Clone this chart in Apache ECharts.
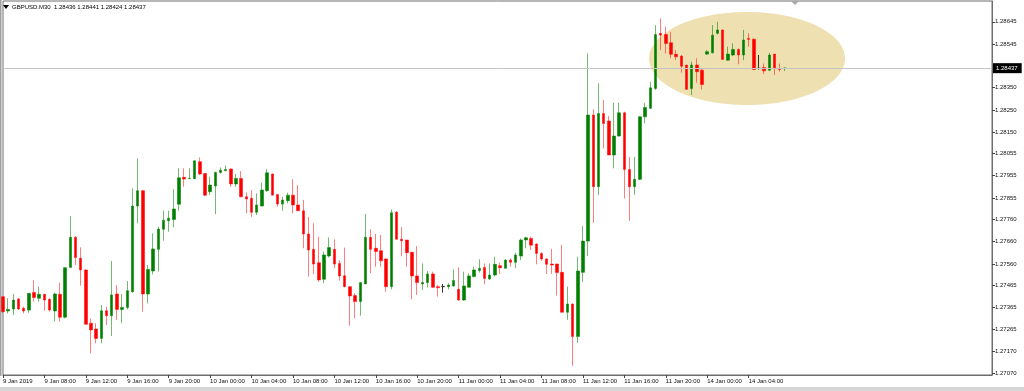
<!DOCTYPE html>
<html>
<head>
<meta charset="utf-8">
<script src="https://cdn.jsdelivr.net/npm/echarts@6/dist/echarts.min.js"></script>
<style>
html,body{margin:0;padding:0;background:#fff;}
#c{width:1024px;height:391px;}
</style>
</head>
<body>
<div id="c"></div>
<script>
// GBPUSD M30, bars from 9 Jan 2019 04:00 to 14 Jan 2019 07:30
const opens = [
1.27413,1.27349,1.27358,1.27403,1.27361,1.27353,1.27432,1.27406,1.27424,1.27401,
1.27349,1.27424,1.27321,1.27544,1.27679,1.27585,1.27533,1.27294,1.27268,1.27226,
1.27350,1.27328,1.27425,1.27356,1.27365,1.27435,1.27819,1.27888,1.27425,1.27528,
1.27625,1.27715,1.27753,1.27759,1.27827,1.27948,1.27942,1.27942,1.28018,1.27965,
1.27883,1.27909,1.27970,1.27977,1.27985,1.27918,1.27943,1.27861,1.27854,1.27791,
1.27819,1.27888,1.27963,1.27871,1.27828,1.27843,1.27868,1.27824,1.27798,1.27694,
1.27625,1.27565,1.27491,1.27595,1.27625,1.27562,1.27507,1.27458,1.27418,1.27391,
1.27470,1.27679,1.27630,1.27619,1.27582,1.27458,1.27791,1.27670,1.27667,1.27612,
1.27506,1.27470,1.27476,1.27515,1.27458,1.27458,1.27458,1.27461,1.27446,1.27398,
1.27455,1.27503,1.27530,1.27544,1.27492,1.27510,1.27552,1.27540,1.27577,1.27567,
1.27595,1.27667,1.27674,1.27649,1.27607,1.27582,1.27559,1.27559,1.27522,1.27343,
1.27380,1.27234,1.27522,1.27662,1.28227,1.27906,1.28234,1.28200,1.28048,1.28133,
1.28237,1.27983,1.27906,1.27939,1.28219,1.28257,1.28346,1.28593,1.28588,1.28551,
1.28499,1.28491,1.28451,1.28346,1.28451,1.28428,1.28500,1.28506,1.28593,1.28608,
1.28473,1.28496,1.28521,1.28496,1.28570,1.28567,1.28436,1.28440,1.28428,1.28500,
1.28436,1.28436
];
const highs = [
1.27413,1.27406,1.27425,1.27406,1.27368,1.27428,1.27488,1.27458,1.27424,1.27406,
1.27431,1.27476,1.27543,1.27774,1.27685,1.27634,1.27535,1.27316,1.27294,1.27376,
1.27368,1.27573,1.27465,1.27425,1.27483,1.27898,1.28033,1.27891,1.27555,1.27697,
1.27727,1.27798,1.27798,1.27895,1.27988,1.27988,1.27988,1.28022,1.28037,1.27965,
1.27951,1.27973,1.27992,1.28000,1.27988,1.27963,1.27976,1.27880,1.27891,1.27876,
1.27925,1.27985,1.27965,1.27871,1.27861,1.27879,1.27940,1.27913,1.27846,1.27771,
1.27742,1.27682,1.27615,1.27679,1.27670,1.27577,1.27633,1.27458,1.27428,1.27476,
1.27783,1.27715,1.27694,1.27689,1.27585,1.27804,1.27797,1.27724,1.27667,1.27612,
1.27640,1.27562,1.27528,1.27525,1.27465,1.27470,1.27473,1.27535,1.27544,1.27525,
1.27518,1.27548,1.27580,1.27562,1.27562,1.27592,1.27565,1.27580,1.27585,1.27610,
1.27674,1.27682,1.27682,1.27652,1.27612,1.27585,1.27627,1.27562,1.27645,1.27458,
1.27383,1.27592,1.27730,1.28503,1.28252,1.28369,1.28294,1.28222,1.28282,1.28282,
1.28242,1.28040,1.28040,1.28222,1.28282,1.28376,1.28630,1.28660,1.28623,1.28600,
1.28518,1.28496,1.28451,1.28466,1.28481,1.28436,1.28518,1.28630,1.28645,1.28611,
1.28533,1.28548,1.28526,1.28608,1.28593,1.28570,1.28496,1.28458,1.28506,1.28500,
1.28458,1.28441
];
const lows = [
1.27341,1.27338,1.27331,1.27353,1.27338,1.27341,1.27391,1.27391,1.27350,1.27346,
1.27301,1.27301,1.27316,1.27544,1.27555,1.27462,1.27289,1.27159,1.27204,1.27204,
1.27286,1.27237,1.27309,1.27294,1.27356,1.27431,1.27742,1.27346,1.27383,1.27513,
1.27525,1.27664,1.27704,1.27724,1.27798,1.27906,1.27940,1.27940,1.27958,1.27864,
1.27868,1.27783,1.27965,1.27977,1.27906,1.27906,1.27858,1.27786,1.27771,1.27779,
1.27819,1.27883,1.27868,1.27816,1.27798,1.27831,1.27786,1.27798,1.27630,1.27503,
1.27515,1.27480,1.27473,1.27589,1.27540,1.27485,1.27455,1.27282,1.27316,1.27328,
1.27470,1.27518,1.27547,1.27547,1.27435,1.27446,1.27670,1.27594,1.27547,1.27401,
1.27421,1.27443,1.27455,1.27453,1.27413,1.27431,1.27446,1.27458,1.27395,1.27394,
1.27455,1.27500,1.27521,1.27468,1.27488,1.27503,1.27515,1.27540,1.27548,1.27540,
1.27577,1.27630,1.27622,1.27558,1.27573,1.27515,1.27515,1.27418,1.27343,1.27309,
1.27103,1.27207,1.27480,1.27595,1.27743,1.27868,1.28077,1.28048,1.27988,1.28130,
1.27853,1.27753,1.27869,1.27936,1.28189,1.28254,1.28340,1.28518,1.28503,1.28481,
1.28473,1.28417,1.28339,1.28317,1.28372,1.28342,1.28496,1.28503,1.28588,1.28476,
1.28470,1.28491,1.28454,1.28473,1.28533,1.28428,1.28431,1.28411,1.28425,1.28406,
1.28421,1.28424
];
const closes = [
1.27346,1.27356,1.27398,1.27358,1.27349,1.27428,1.27409,1.27424,1.27398,1.27353,
1.27425,1.27321,1.27543,1.27679,1.27588,1.27533,1.27289,1.27264,1.27226,1.27350,
1.27328,1.27421,1.27356,1.27365,1.27440,1.27819,1.27888,1.27425,1.27535,1.27627,
1.27716,1.27756,1.27765,1.27806,1.27946,1.27940,1.27943,1.28022,1.27963,1.27868,
1.27913,1.27970,1.27980,1.27983,1.27918,1.27943,1.27861,1.27851,1.27791,1.27824,
1.27891,1.27968,1.27868,1.27828,1.27846,1.27868,1.27824,1.27798,1.27694,1.27622,
1.27559,1.27488,1.27600,1.27633,1.27559,1.27506,1.27458,1.27416,1.27391,1.27476,
1.27679,1.27625,1.27615,1.27574,1.27458,1.27789,1.27670,1.27664,1.27610,1.27506,
1.27476,1.27476,1.27515,1.27455,1.27453,1.27458,1.27465,1.27485,1.27398,1.27461,
1.27506,1.27533,1.27540,1.27495,1.27510,1.27558,1.27543,1.27577,1.27567,1.27600,
1.27667,1.27677,1.27644,1.27607,1.27582,1.27558,1.27555,1.27521,1.27343,1.27380,
1.27234,1.27528,1.27662,1.28227,1.27906,1.28234,1.28189,1.28048,1.28133,1.28237,
1.27983,1.27906,1.27939,1.28219,1.28261,1.28349,1.28588,1.28585,1.28548,1.28499,
1.28488,1.28446,1.28342,1.28451,1.28421,1.28364,1.28511,1.28585,1.28608,1.28476,
1.28500,1.28521,1.28496,1.28563,1.28566,1.28431,1.28436,1.28425,1.28496,1.28436,
1.28431,1.28437
];
const xTickLabels = ['9 Jan 2019','9 Jan 08:00','9 Jan 12:00','9 Jan 16:00','9 Jan 20:00',
  '10 Jan 00:00','10 Jan 04:00','10 Jan 08:00','10 Jan 12:00','10 Jan 16:00','10 Jan 20:00',
  '11 Jan 00:00','11 Jan 04:00','11 Jan 08:00','11 Jan 12:00','11 Jan 16:00','11 Jan 20:00',
  '14 Jan 00:00','14 Jan 04:00'];
const yTickValues = [1.28645,1.28545,1.28350,1.28250,1.28150,1.28055,1.27955,1.27855,
  1.27760,1.27660,1.27560,1.27465,1.27365,1.27265,1.27170,1.27070];
const currentPrice = 1.28437;
const headerText = 'GBPUSD.M30  1.28436 1.28441 1.28424 1.28437';
const barsPerLabel = 8;
const totalSlots = 192; // bars plus empty shift area on the right

const nBars = opens.length;
const categories = [];
const candleData = [];
for (let i = 0; i < totalSlots; i++) {
  categories.push(String(i));
  if (i < nBars) candleData.push([opens[i], closes[i], lows[i], highs[i]]);
  else candleData.push('-');
}
const showTick = (idx) => idx < nBars && idx % barsPerLabel === 0;

const FONT = 'Liberation Sans';
const chart = echarts.init(document.getElementById('c'), null, {renderer: 'canvas'});
chart.setOption({
  animation: false,
  backgroundColor: '#ffffff',
  grid: {left: 2, right: 32, top: 1, bottom: 16, show: true, borderColor: '#6e6e6e', borderWidth: 1, backgroundColor: 'transparent'},
  xAxis: {
    type: 'category',
    data: categories,
    boundaryGap: false,
    axisLine: {show: true, lineStyle: {color: '#6e6e6e', width: 1}},
    axisTick: {show: true, length: 3, interval: (idx) => showTick(idx), lineStyle: {color: '#444'}},
    axisLabel: {
      interval: (idx) => showTick(idx),
      formatter: (v, idx) => xTickLabels[idx / barsPerLabel] || '',
      fontSize: 6, fontFamily: FONT, color: '#111', align: 'left', margin: 3
    },
    splitLine: {show: false}
  },
  yAxis: {
    type: 'value',
    position: 'right',
    min: 1.27062,
    max: 1.28738,
    axisLine: {show: true, lineStyle: {color: '#6e6e6e', width: 1}},
    axisTick: {show: true, length: 3, customValues: yTickValues, lineStyle: {color: '#444'}},
    axisLabel: {customValues: yTickValues, formatter: (v) => v.toFixed(5), fontSize: 6, fontFamily: FONT, color: '#111', margin: 3},
    splitLine: {show: false}
  },
  graphic: [
    {type: 'ellipse', z: -5, shape: {cx: 747, cy: 58.5, rx: 98, ry: 46.5}, style: {fill: '#eee0b0'}},
    {type: 'polygon', shape: {points: [[3, 5], [9, 5], [6, 9]]}, style: {fill: '#000'}},
    {type: 'text', x: 12, y: 7, style: {text: headerText, fontSize: 6, fontFamily: FONT, fill: '#000', verticalAlign: 'middle'}},
    {type: 'polygon', shape: {points: [[791, 1], [799, 1], [795, 5]]}, style: {fill: '#a8a8a8'}},
    {type: 'rect', shape: {x: 0, y: 387, width: 1024, height: 4}, style: {fill: '#d6d6d6'}},
    {type: 'rect', shape: {x: 0, y: 0, width: 1.5, height: 376}, style: {fill: '#a0a0a0'}}
  ],
  series: [{
    type: 'candlestick',
    data: candleData,
    barWidth: 3,
    itemStyle: {
      color: '#008000', color0: '#ff0000',
      borderColor: 'rgba(0,128,0,0.55)', borderColor0: 'rgba(255,0,0,0.5)',
      borderColorDoji: '#333', borderWidth: 1
    },
    markLine: {
      silent: true,
      symbol: 'none',
      precision: 5,
      data: [{yAxis: currentPrice}],
      lineStyle: {color: '#c4c4c4', type: 'solid', width: 1},
      label: {position: 'end', formatter: currentPrice.toFixed(5), backgroundColor: '#000', color: '#fff', fontSize: 6, fontFamily: FONT, padding: [2, 4, 2, 3], distance: 1}
    }
  }]
});
</script>
</body>
</html>
